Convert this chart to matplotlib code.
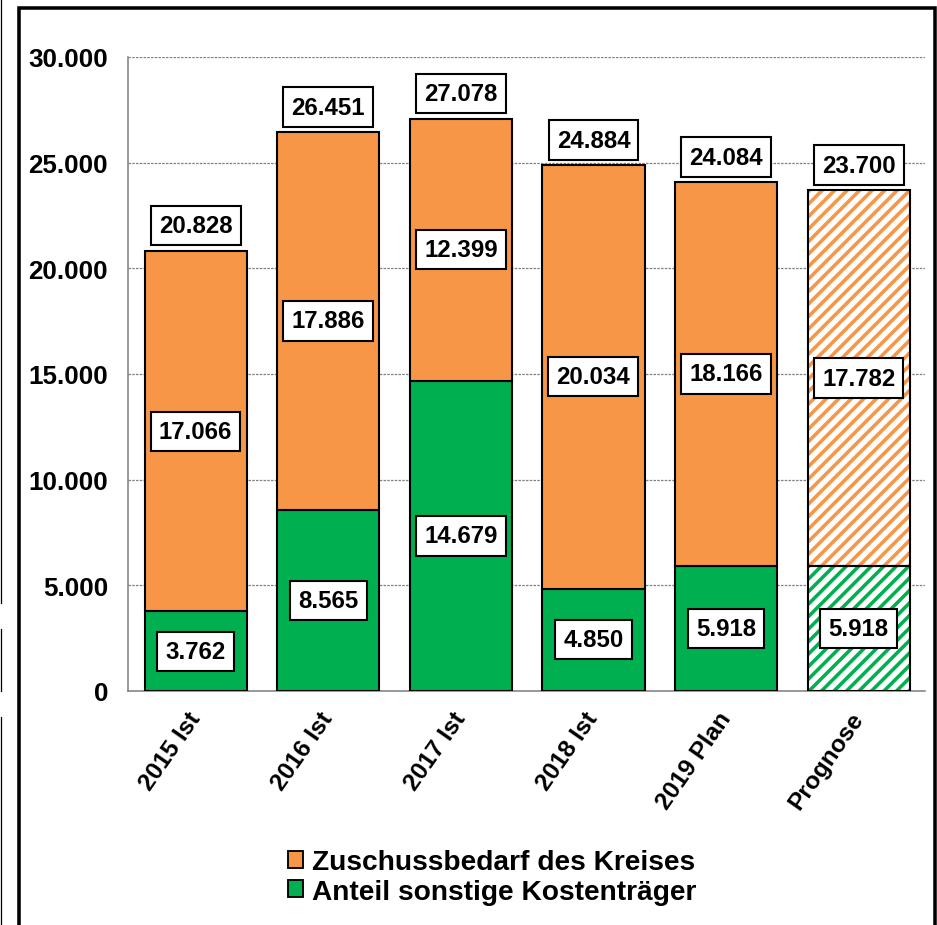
import matplotlib
matplotlib.use("Agg")
import matplotlib.pyplot as plt
from matplotlib.lines import Line2D
from matplotlib.patches import Patch

categories = ["2015 Ist", "2016 Ist", "2017 Ist", "2018 Ist", "2019 Plan", "Prognose"]
sonstige = [3762, 8565, 14679, 4850, 5918, 5918]
zuschuss = [17066, 17886, 12399, 20034, 18166, 17782]
totals = [20828, 26451, 27078, 24884, 24084, 23700]
yticks = [0, 5000, 10000, 15000, 20000, 25000, 30000]

ORANGE = "#F79646"
GREEN = "#00B050"

DPI = 75
W, H = 937, 926
plt.rcParams['font.family'] = ['Liberation Sans', 'DejaVu Sans']
plt.rcParams['font.weight'] = 'bold'
plt.rcParams['hatch.linewidth'] = 3.4

fig = plt.figure(figsize=(W / DPI, H / DPI), dpi=DPI)
ax = fig.add_axes([128 / W, 1 - 692 / H, (925 - 128) / W, (692 - 58) / H])

def fmt(v):
    return f"{v:,}".replace(",", ".")

x = list(range(len(categories)))
bw = 0.77
n_solid = 5

for i in x:
    g, o = sonstige[i], zuschuss[i]
    if i < n_solid:
        ax.bar(i, g, bw, color=GREEN, edgecolor="black", linewidth=2, zorder=3)
        ax.bar(i, o, bw, bottom=g, color=ORANGE, edgecolor="black", linewidth=2, zorder=3)
    else:
        ax.bar(i, g, bw, color="white", edgecolor=GREEN, hatch="//", linewidth=0, zorder=3)
        ax.bar(i, o, bw, bottom=g, color="white", edgecolor=ORANGE, hatch="//", linewidth=0, zorder=3)
        ax.bar(i, g, bw, color="none", edgecolor="black", linewidth=2, zorder=4)
        ax.bar(i, o, bw, bottom=g, color="none", edgecolor="black", linewidth=2, zorder=4)

box = dict(boxstyle="square,pad=0.34", facecolor="white", edgecolor="black", linewidth=2)
for i in x:
    g, o, t = sonstige[i], zuschuss[i], totals[i]
    ax.text(i, g / 2, fmt(g), ha="center", va="center", fontsize=23, fontweight="bold", bbox=box, zorder=6)
    ax.text(i, g + o / 2, fmt(o), ha="center", va="center", fontsize=23, fontweight="bold", bbox=box, zorder=6)
    ax.annotate(fmt(t), (i, t), xytext=(0, 24), textcoords="offset points",
                ha="center", va="center", fontsize=23, fontweight="bold", bbox=box, zorder=6)

ax.set_xlim(-0.51, 5.5)
ax.set_ylim(0, 30000)
ax.set_yticks(yticks)
ax.set_yticklabels([fmt(v) for v in yticks], fontsize=25, fontweight="bold")
ax.set_xticks(x)
ax.set_xticklabels(categories, fontsize=23.5, fontweight="bold", rotation=55,
                   ha="right", va="center", rotation_mode="anchor")
ax.tick_params(axis="y", length=0, pad=19)
ax.tick_params(axis="x", length=0, pad=22)

ax.grid(axis="y", color="#808080", linestyle=(0, (2, 1)), linewidth=1.2, zorder=0)
ax.set_axisbelow(True)
for s in ["top", "right"]:
    ax.spines[s].set_visible(False)
for s in ["left", "bottom"]:
    ax.spines[s].set_color("#808080")
    ax.spines[s].set_linewidth(1.5)

handles = [Patch(facecolor=ORANGE, edgecolor="black", linewidth=1.8),
           Patch(facecolor=GREEN, edgecolor="black", linewidth=1.8)]
fig.legend(handles, ["Zuschussbedarf des Kreises", "Anteil sonstige Kostenträger"],
           loc="center", bbox_to_anchor=(492 / W, 1 - 878 / H), frameon=False,
           prop=dict(size=27, weight="bold"), handlelength=0.55, handleheight=0.55,
           handletextpad=0.3, labelspacing=0.12, borderaxespad=0)

# outer frame
fx = lambda p: p / W
fy = lambda p: 1 - p / H
fig.add_artist(Line2D([fx(19), fx(19), fx(935), fx(935)], [fy(926), fy(9), fy(9), fy(926)],
                      transform=fig.transFigure, color="black", linewidth=3.4, solid_joinstyle="miter"))
for y0, y1 in [(0, 604), (630, 692), (718, 926)]:
    fig.add_artist(Line2D([fx(0.7), fx(0.7)], [fy(y0), fy(y1)], transform=fig.transFigure,
                          color="black", linewidth=1.2))

fig.savefig("out.png", dpi=DPI, facecolor="white")
